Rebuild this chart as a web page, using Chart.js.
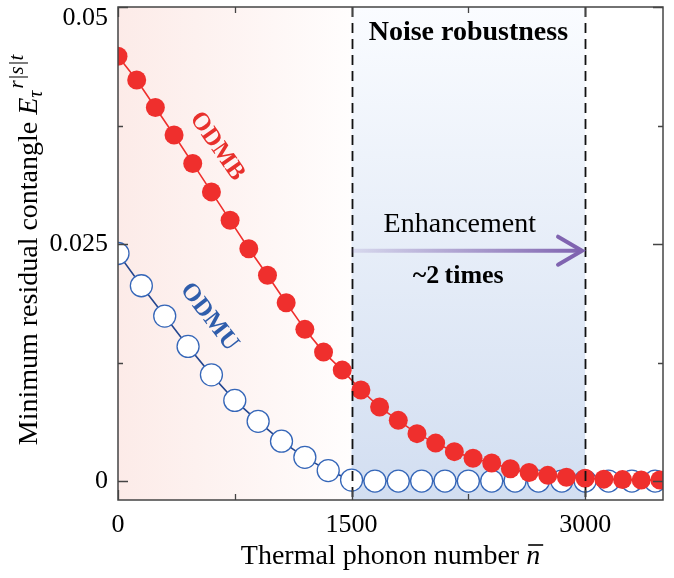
<!DOCTYPE html>
<html>
<head>
<meta charset="utf-8">
<script src="https://cdn.jsdelivr.net/npm/chart.js@4.4.0/dist/chart.umd.min.js"></script>
<style>
  html, body { margin: 0; padding: 0; background: #fff; }
</style>
</head>
<body>
<canvas id="chart" width="674" height="578"></canvas>
<script>
// thermal phonon number (x) and residual contangle (y)
const odmbN = [0, 120, 240, 360, 480, 600, 720, 840, 960, 1080, 1200, 1320, 1440, 1560, 1680,
  1800, 1920, 2040, 2160, 2280, 2400, 2520, 2640, 2760, 2880, 3000, 3120, 3240, 3360, 3480];
const odmbE = [0.0448, 0.0423, 0.0394, 0.0365, 0.0335, 0.0305, 0.0275, 0.0245, 0.0217, 0.0188,
  0.0160, 0.0136, 0.0117, 0.0096, 0.0078, 0.0064, 0.0050, 0.0040, 0.0031, 0.0024,
  0.0019, 0.0013, 0.0009, 0.0006, 0.0004, 0.0003, 0.0002, 0.00015, 0.0001, 0.0001];

const odmuN = [0, 150, 300, 450, 600, 750, 900, 1050, 1200, 1350, 1500, 1650, 1800, 1950,
  2100, 2250, 2400, 2550, 2700, 2850, 3000, 3150, 3300, 3450];
const odmuE = [0.0240, 0.0206, 0.0174, 0.0142, 0.0112, 0.0085, 0.0063, 0.0042, 0.0025, 0.0011,
  0.0001, 0, 0, 0, 0, 0, 0, 0, 0, 0, 0, 0, 0, 0];

const xTicks = [0, 750, 1500, 2250, 3000];
const xLabels = [0, 1500, 3000];
const yTicks = [0, 0.0125, 0.025, 0.0375, 0.05];
const yLabels = [0, 0.025, 0.05];
const zoneEdges = [1500, 3000];

const serif = '"Liberation Serif", "Times New Roman", serif';
const red = "#ef2f2d";
const blue = "#3566b8";

function toPts(xs, ys) {
  return xs.map((v, i) => ({ x: v, y: ys[i] }));
}

function rotatedText(ctx, txt, px, py, deg, font, color) {
  ctx.save();
  ctx.translate(px, py);
  ctx.rotate(deg * Math.PI / 180);
  ctx.font = font;
  ctx.fillStyle = color;
  ctx.textAlign = "center";
  ctx.textBaseline = "middle";
  ctx.fillText(txt, 0, 0);
  ctx.restore();
}

const figurePlugin = {
  id: "figure",
  beforeDatasetsDraw(chart) {
    const { ctx, chartArea: a, scales: { x } } = chart;
    const x1 = x.getPixelForValue(zoneEdges[0]);
    const x2 = x.getPixelForValue(zoneEdges[1]);
    ctx.save();
    let g = ctx.createLinearGradient(a.left, 0, x1, 0);
    g.addColorStop(0, "#fcebe8");
    g.addColorStop(1, "#fffdfd");
    ctx.fillStyle = g;
    ctx.fillRect(a.left, a.top, x1 - a.left, a.bottom - a.top);
    g = ctx.createLinearGradient(0, a.top, 0, a.bottom);
    g.addColorStop(0, "#fafcff");
    g.addColorStop(1, "#d2def1");
    ctx.fillStyle = g;
    ctx.fillRect(x1, a.top, x2 - x1, a.bottom - a.top);
    ctx.restore();
  },
  afterDatasetsDraw(chart) {
    const { ctx, chartArea: a, scales: { x, y } } = chart;
    ctx.save();
    // dashed zone borders
    ctx.strokeStyle = "#111";
    ctx.lineWidth = 1.8;
    ctx.setLineDash([10, 6]);
    zoneEdges.forEach(v => {
      const px = Math.round(x.getPixelForValue(v)) + 0.5;
      ctx.beginPath();
      ctx.moveTo(px, a.top);
      ctx.lineTo(px, a.bottom);
      ctx.stroke();
    });
    ctx.setLineDash([]);

    // enhancement arrow
    const ax0 = x.getPixelForValue(1500), ax1 = x.getPixelForValue(2980);
    const ay = y.getPixelForValue(0.0243);
    const g = ctx.createLinearGradient(ax0, 0, ax1, 0);
    g.addColorStop(0, "rgba(128,100,176,0.15)");
    g.addColorStop(1, "rgba(128,100,176,1)");
    ctx.strokeStyle = g;
    ctx.lineWidth = 4;
    ctx.beginPath();
    ctx.moveTo(ax0, ay);
    ctx.lineTo(ax1 - 2, ay);
    ctx.stroke();
    ctx.strokeStyle = "#8064b0";
    ctx.lineWidth = 4;
    ctx.lineCap = "round";
    ctx.beginPath();
    ctx.moveTo(ax1 - 24, ay - 14);
    ctx.lineTo(ax1, ay);
    ctx.lineTo(ax1 - 24, ay + 14);
    ctx.stroke();

    // texts
    ctx.fillStyle = "#000";
    ctx.textAlign = "center";
    ctx.textBaseline = "alphabetic";
    ctx.font = "bold 28px " + serif;
    ctx.fillText("Noise robustness", x.getPixelForValue(2250), y.getPixelForValue(0.0465));
    ctx.font = "28px " + serif;
    ctx.fillText("Enhancement", x.getPixelForValue(2195), y.getPixelForValue(0.0263));
    ctx.font = "bold 26px " + serif;
    ctx.fillText("~2\u2009times", x.getPixelForValue(2185), y.getPixelForValue(0.0209));
    ctx.restore();

    rotatedText(ctx, "ODMB", x.getPixelForValue(636), y.getPixelForValue(0.0353), 55,
      "bold 25px " + serif, "#e8302c");
    rotatedText(ctx, "ODMU", x.getPixelForValue(585), y.getPixelForValue(0.0173), 52,
      "bold 25px " + serif, "#2f5dab");
  },
  afterDraw(chart) {
    const { ctx, chartArea: a, scales: { x, y } } = chart;
    ctx.save();
    ctx.strokeStyle = "#444";
    ctx.lineWidth = 1.5;
    ctx.strokeRect(a.left, a.top, a.right - a.left, a.bottom - a.top);
    ctx.lineWidth = 1.3;
    ctx.beginPath();
    yTicks.forEach(v => {
      const py = Math.round(y.getPixelForValue(v)) + 0.5;
      const len = yLabels.includes(v) ? 10 : 5;
      ctx.moveTo(a.left, py); ctx.lineTo(a.left + len, py);
      ctx.moveTo(a.right, py); ctx.lineTo(a.right - len, py);
    });
    xTicks.forEach(v => {
      const px = Math.round(x.getPixelForValue(v)) + 0.5;
      const len = xLabels.includes(v) ? 10 : 6;
      ctx.moveTo(px, a.bottom); ctx.lineTo(px, a.bottom - len);
      ctx.moveTo(px, a.top); ctx.lineTo(px, a.top + len);
    });
    ctx.stroke();

    // top y label, nudged down so it stays inside the canvas
    const topVal = yLabels[yLabels.length - 1];
    ctx.fillStyle = "#000";
    ctx.font = "26px " + serif;
    ctx.textAlign = "right";
    ctx.textBaseline = "middle";
    ctx.fillText(String(topVal), a.left - 10, y.getPixelForValue(topVal) + 11);

    // x axis title with n-bar
    ctx.textBaseline = "alphabetic";
    ctx.textAlign = "left";
    const main = "Thermal phonon number ";
    ctx.font = "28px " + serif;
    const wMain = ctx.measureText(main).width;
    ctx.font = "italic 28px " + serif;
    const wN = ctx.measureText("n").width;
    const cx = (a.left + a.right) / 2;
    const bx = cx - (wMain + wN) / 2;
    const by = 564;
    ctx.font = "28px " + serif;
    ctx.fillText(main, bx, by);
    ctx.font = "italic 28px " + serif;
    ctx.fillText("n", bx + wMain, by);
    ctx.lineWidth = 1.6;
    ctx.strokeStyle = "#000";
    ctx.beginPath();
    ctx.moveTo(bx + wMain + 2, by - 19);
    ctx.lineTo(bx + wMain + wN + 3, by - 19);
    ctx.stroke();

    // y axis title with E_tau^{r|s|t}
    ctx.translate(37, 250);
    ctx.rotate(-Math.PI / 2);
    const ytxt = "Minimum residual contangle ";
    ctx.font = "28px " + serif;
    const w1 = ctx.measureText(ytxt).width;
    ctx.font = "italic 28px " + serif;
    const wE = ctx.measureText("E").width;
    ctx.font = "italic 20px " + serif;
    const wT = ctx.measureText("\u03c4").width;
    ctx.font = "italic 21px " + serif;
    const wS = ctx.measureText("r|s|t").width;
    let px = -(w1 + wE + wT + wS + 2) / 2;
    ctx.font = "28px " + serif;
    ctx.fillText(ytxt, px, 0);
    px += w1;
    ctx.font = "italic 28px " + serif;
    ctx.fillText("E", px, 0);
    px += wE;
    ctx.font = "italic 20px " + serif;
    ctx.fillText("\u03c4", px, 5);
    px += wT + 2;
    ctx.font = "italic 21px " + serif;
    ctx.fillText("r|s|t", px, -14);
    ctx.restore();
  }
};

new Chart(document.getElementById("chart"), {
  type: "line",
  data: {
    datasets: [
      {
        label: "ODMB",
        data: toPts(odmbN, odmbE),
        borderColor: red,
        backgroundColor: red,
        borderWidth: 1.6,
        pointRadius: 9.5,
        pointBackgroundColor: red,
        pointBorderColor: red,
        pointBorderWidth: 0,
        tension: 0,
        clip: 0
      },
      {
        label: "ODMU",
        data: toPts(odmuN, odmuE),
        borderColor: "#24468f",
        backgroundColor: "#fff",
        borderWidth: 1.6,
        pointRadius: 11,
        pointBackgroundColor: "#fff",
        pointBorderColor: blue,
        pointBorderWidth: 1.3,
        tension: 0,
        clip: 0
      }
    ]
  },
  options: {
    responsive: false,
    animation: false,
    layout: { autoPadding: false, padding: { top: 7, right: 11, left: 0, bottom: 0 } },
    plugins: {
      legend: { display: false },
      tooltip: { enabled: false }
    },
    scales: {
      x: {
        type: "linear",
        min: 0,
        max: 3500,
        afterBuildTicks: s => { s.ticks = xTicks.map(v => ({ value: v })); },
        afterFit: s => { s.height = 78; s.paddingLeft = 0; s.paddingRight = 0; },
        grid: { display: false, drawTicks: false },
        border: { display: false },
        ticks: {
          padding: 10,
          color: "#000",
          font: { family: serif, size: 26 },
          maxRotation: 0,
          callback: v => (xLabels.includes(v) ? String(v) : "")
        }
      },
      y: {
        type: "linear",
        min: -0.002,
        max: 0.05,
        afterBuildTicks: s => { s.ticks = yTicks.map(v => ({ value: v })); },
        afterFit: s => { s.width = 118; s.paddingTop = 0; s.paddingBottom = 0; },
        grid: { display: false, drawTicks: false },
        border: { display: false },
        ticks: {
          padding: 10,
          color: "#000",
          font: { family: serif, size: 26 },
          // the top label is drawn by the plugin, slightly below its tick
          callback: v => (yLabels.includes(v) && v !== 0.05 ? String(v) : "")
        }
      }
    }
  },
  plugins: [figurePlugin]
});
</script>
</body>
</html>
